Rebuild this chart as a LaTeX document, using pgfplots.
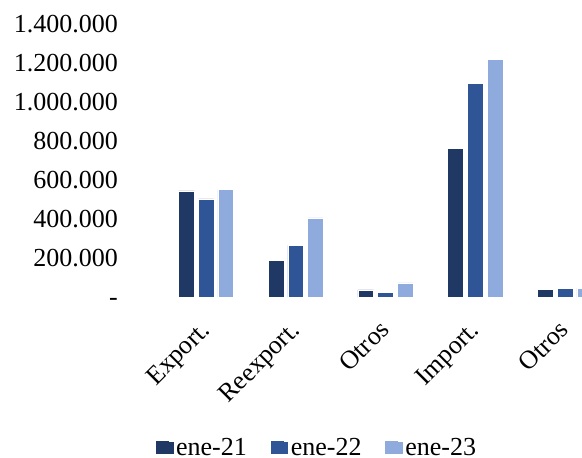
\documentclass[border=0pt]{standalone}
\usepackage{fontspec}
\setmainfont{Liberation Serif}
\usepackage{pgfplots}
\pgfplotsset{compat=1.18}
\definecolor{c1}{HTML}{1F3864}
\definecolor{c2}{HTML}{2F5597}
\definecolor{c3}{HTML}{8FAADC}
\begin{document}
\begin{tikzpicture}[font=\fontsize{26}{31}\selectfont, x=1pt, y=1pt]
\useasboundingbox (0,0) rectangle (582,458);
\clip (0,0) rectangle (582,458);
\begin{axis}[
  at={(161.3pt,160.6pt)}, anchor=south west,
  scale only axis, width=448.5pt, height=273.4pt,
  ybar=4pt, bar width=15.7pt,
  xmin=-0.5, xmax=4.5, ymin=0, ymax=1400000,
  enlargelimits=false,
  axis line style={draw=none},
  major tick length=0pt, tick style={draw=none},
  xtick={0,1,2,3,4},
  xticklabels={Export.,Reexport.,Otros,Import.,Otros},
  ytick={0,200000,400000,600000,800000,1000000,1200000,1400000},
  yticklabels={{\vphantom{0}-\hspace{13pt}},200.000,400.000,600.000,800.000,1.000.000,1.200.000,1.400.000},
  scaled y ticks=false,
  yticklabel style={anchor=east, inner sep=0pt, xshift=-43.3pt},
  xticklabel style={inner sep=0pt, xshift=5pt, yshift=-34pt, rotate=45, anchor=base east},
  legend columns=3,
  legend style={at={(0.347,-0.548)}, anchor=center, draw=none, fill=none, inner ysep=0pt,
    /tikz/every even column/.append style={column sep=21.5pt}},
  legend image code/.code={\path (0pt,-6.5pt) rectangle (18pt,6.5pt);\fill[#1,draw=none] (0pt,-6.5pt) rectangle (13pt,6.5pt);},
]
\addplot[fill=c1, draw=white, line width=0.4pt] coordinates {(0,545000) (1,190000) (2,38000) (3,763000) (4,43000)};
\addplot[fill=c2, draw=white, line width=0.4pt] coordinates {(0,504000) (1,267000) (2,26000) (3,1096000) (4,48000)};
\addplot[fill=c3, draw=white, line width=0.4pt] coordinates {(0,553000) (1,407000) (2,75000) (3,1219000) (4,48000)};
\legend{ene-21,ene-22,ene-23}
\end{axis}
\end{tikzpicture}
\end{document}
